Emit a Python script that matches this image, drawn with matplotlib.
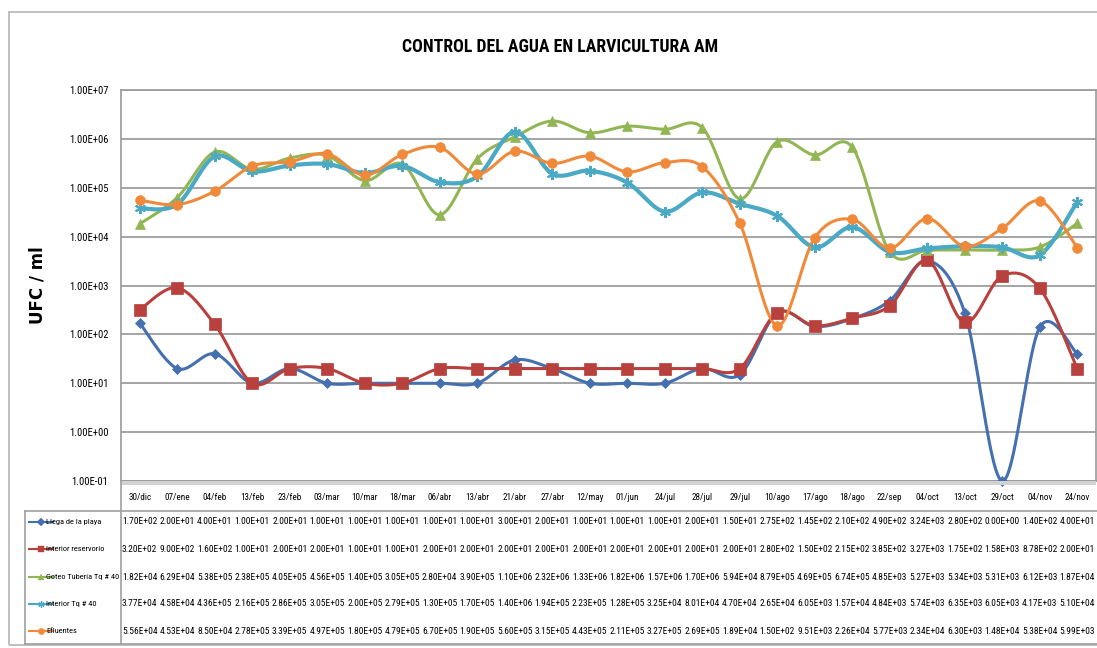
import numpy as np
import matplotlib
matplotlib.use("Agg")
import matplotlib.pyplot as plt
from matplotlib import font_manager
from matplotlib.font_manager import FontProperties
from matplotlib.lines import Line2D
import matplotlib.transforms as mtransforms

# ---------------- data ----------------
categories = ["30/dic", "07/ene", "04/feb", "13/feb", "23/feb", "03/mar", "10/mar", "18/mar",
              "06/abr", "13/abr", "21/abr", "27/abr", "12/may", "01/jun", "24/jul", "28/jul",
              "29/jul", "10/ago", "17/ago", "18/ago", "22/sep", "04/oct", "13/oct", "29/oct",
              "04/nov", "24/nov"]

llega_playa = [1.70e2, 2.00e1, 4.00e1, 1.00e1, 2.00e1, 1.00e1, 1.00e1, 1.00e1, 1.00e1, 1.00e1,
               3.00e1, 2.00e1, 1.00e1, 1.00e1, 1.00e1, 2.00e1, 1.50e1, 2.75e2, 1.45e2, 2.10e2,
               4.90e2, 3.24e3, 2.80e2, 0.00e0, 1.40e2, 4.00e1]
interior_reservorio = [3.20e2, 9.00e2, 1.60e2, 1.00e1, 2.00e1, 2.00e1, 1.00e1, 1.00e1, 2.00e1, 2.00e1,
                       2.00e1, 2.00e1, 2.00e1, 2.00e1, 2.00e1, 2.00e1, 2.00e1, 2.80e2, 1.50e2, 2.15e2,
                       3.85e2, 3.27e3, 1.75e2, 1.58e3, 8.78e2, 2.00e1]
goteo_tuberia = [1.82e4, 6.29e4, 5.38e5, 2.38e5, 4.05e5, 4.56e5, 1.40e5, 3.05e5, 2.80e4, 3.90e5,
                 1.10e6, 2.32e6, 1.33e6, 1.82e6, 1.57e6, 1.70e6, 5.94e4, 8.79e5, 4.69e5, 6.74e5,
                 4.85e3, 5.27e3, 5.34e3, 5.31e3, 6.12e3, 1.87e4]
interior_tq = [3.77e4, 4.58e4, 4.36e5, 2.16e5, 2.86e5, 3.05e5, 2.00e5, 2.79e5, 1.30e5, 1.70e5,
               1.40e6, 1.94e5, 2.23e5, 1.28e5, 3.25e4, 8.01e4, 4.70e4, 2.65e4, 6.05e3, 1.57e4,
               4.84e3, 5.74e3, 6.35e3, 6.05e3, 4.17e3, 5.10e4]
efluentes = [5.56e4, 4.53e4, 8.50e4, 2.78e5, 3.39e5, 4.97e5, 1.80e5, 4.79e5, 6.70e5, 1.90e5,
             5.60e5, 3.15e5, 4.43e5, 2.11e5, 3.27e5, 2.69e5, 1.89e4, 1.50e2, 9.51e3, 2.26e4,
             5.77e3, 2.34e4, 6.30e3, 1.48e4, 5.38e4, 5.99e3]

series_names = ["Llega de la playa", "Interior reservorio", "Goteo Tuberia Tq # 40",
                "Interior Tq # 40", "Efluentes"]
series_values = [llega_playa, interior_reservorio, goteo_tuberia, interior_tq, efluentes]
y_ticks = [1e-1, 1e0, 1e1, 1e2, 1e3, 1e4, 1e5, 1e6, 1e7]

title = "CONTROL DEL AGUA EN LARVICULTURA AM"
ylabel = "UFC / ml"

# ---------------- styles ----------------
colors = ["#4470B0", "#B8403D", "#93B654", "#4AA9C4", "#F08A3A"]
markers = ["D", "s", "^", (6, 2, 0), "o"]
msizes = [5, 8, 7, 8, 7]
lwidths = [2.2, 2.2, 2.2, 3.0, 2.2]


def find_narrow(bold=False):
    prefs = ["LiberationSansNarrow", "RobotoCondensed", "DejaVuSansCondensed", "OpenSansCondensed",
             "Condensed", "Narrow"]
    files = [f.fname for f in font_manager.fontManager.ttflist]
    for p in prefs:
        for fn in files:
            base = fn.split("/")[-1].replace("-", "").replace("_", "")
            if p.lower() in base.lower():
                is_bold = "bold" in base.lower()
                is_ital = "italic" in base.lower() or "oblique" in base.lower()
                if is_bold == bold and not is_ital:
                    return FontProperties(fname=fn)
    return FontProperties(family="DejaVu Sans", weight="bold" if bold else "normal")


fp_reg = find_narrow(False)
fp_bold = find_narrow(True)

W, H = 1097, 648
fig = plt.figure(figsize=(W / 100, H / 100), dpi=100)
renderer = fig.canvas.get_renderer()


def fit_size(text, fp, target_px):
    p = fp.copy()
    p.set_size(10)
    w, h, d = renderer.get_text_width_height_descent(text, p, ismath=False)
    return 10 * target_px / w


def with_size(fp, size):
    p = fp.copy()
    p.set_size(size)
    return p


def px(x, y):
    return x / W, 1 - y / H

# outer chart border
fig.patches.append(plt.Rectangle(px(9, 645), (W - 9 + 5) / W, (645 - 12) / H,
                                 transform=fig.transFigure, fill=False,
                                 edgecolor="#B5B5B5", lw=1.2, zorder=0))

ax_l, ax_t, ax_r, ax_b = 121, 90, 1096, 481
ax = fig.add_axes([ax_l / W, 1 - ax_b / H, (ax_r - ax_l) / W, (ax_b - ax_t) / H])

n = len(categories)
xi = np.arange(n)
ymin, ymax = 1e-1, 1e7


def smooth(x, y, steps=24):
    # Bezier smoothing like a spreadsheet "smoothed line" (Catmull-Rom), in log space
    ly = np.log10(y)
    P = np.column_stack([x, ly])
    out = [P[0]]
    for i in range(len(P) - 1):
        p0 = P[i - 1] if i > 0 else P[i]
        p1 = P[i]
        p2 = P[i + 1]
        p3 = P[i + 2] if i + 2 < len(P) else P[i + 1]
        c1 = p1 + (p2 - p0) / 6.0
        c2 = p2 - (p3 - p1) / 6.0
        t = np.linspace(0, 1, steps)[1:, None]
        seg = ((1 - t) ** 3) * p1 + 3 * ((1 - t) ** 2) * t * c1 + 3 * (1 - t) * t ** 2 * c2 + t ** 3 * p2
        out.extend(seg)
    out = np.array(out)
    return out[:, 0], 10 ** out[:, 1]


for vals, c, m, ms, lw in zip(series_values, colors, markers, msizes, lwidths):
    v = np.maximum(np.array(vals, dtype=float), ymin)
    sx, sy = smooth(xi, v)
    ax.plot(sx, sy, color=c, lw=lw, solid_capstyle="round", zorder=3)
    ax.plot(xi, v, linestyle="none", marker=m, color=c, markersize=ms,
            markeredgecolor=c, markeredgewidth=1.5 if m == (6, 2, 0) else 0.5, zorder=4,
            clip_on=False)

ax.set_yscale("log")
ax.set_ylim(ymin, ymax)
ax.set_xlim(-0.5, n - 0.5)
ax.set_yticks(y_ticks)
ytl = ["%.2E" % t for t in y_ticks]
ax.set_yticklabels(ytl)
ax.yaxis.set_minor_locator(matplotlib.ticker.NullLocator())
ax.tick_params(axis="y", length=0, pad=9)
ysz = fit_size("1.00E+07", fp_reg, 39)
for lab in ax.get_yticklabels():
    lab.set_fontproperties(with_size(fp_reg, ysz))
ax.set_xticks(xi)
ax.set_xticklabels(categories)
ax.tick_params(axis="x", length=0, pad=9)
xsz = fit_size("30/dic", fp_reg, 23)
for lab in ax.get_xticklabels():
    lab.set_fontproperties(with_size(fp_reg, xsz))
ax.grid(axis="y", color="#8C8C8C", lw=1.1)
ax.set_axisbelow(True)
for s in ax.spines.values():
    s.set_color("#9A9A9A")
    s.set_linewidth(1.2)

# shadow under plot area
fig.patches.append(plt.Rectangle(px(ax_l, ax_b + 4), (ax_r - ax_l) / W, 4 / H,
                                 transform=fig.transFigure, facecolor="#D2D2D2",
                                 edgecolor="none", zorder=0))

tsz = fit_size(title, fp_bold, 316)
fig.text(560 / W, 1 - 47 / H, title, ha="center", va="center",
         fontproperties=with_size(fp_bold, tsz), color="black")
fig.text(37 / W, 1 - 285 / H, ylabel, ha="center", va="center", rotation=90,
         fontsize=12, fontweight="bold", family="DejaVu Sans")

# ---------------- data table ----------------
tb_top, tb_bot, tb_left = 511, 644, 25
border = "#A0A0A0"
fig.add_artist(Line2D([tb_left / W, 1.0], [1 - tb_top / H] * 2, transform=fig.transFigure,
                      color=border, lw=1.2))
fig.add_artist(Line2D([tb_left / W, 1.0], [1 - tb_bot / H] * 2, transform=fig.transFigure,
                      color=border, lw=1.2))
fig.add_artist(Line2D([tb_left / W] * 2, [1 - tb_top / H, 1 - tb_bot / H],
                      transform=fig.transFigure, color=border, lw=1.2))
fig.add_artist(Line2D([ax_l / W] * 2, [1 - ax_b / H, 1 - tb_bot / H],
                      transform=fig.transFigure, color=border, lw=1.2))

row_y = [522, 549, 577, 604, 631]
trans = mtransforms.blended_transform_factory(ax.transData, fig.transFigure)
vsz = fit_size("1.70E+02", fp_reg, 35)
nsz = fit_size("Goteo Tuberia Tq # 40", fp_reg, 73)
fp_v = with_size(fp_reg, vsz)
fp_n = with_size(fp_reg, min(nsz, vsz * 1.05))
for r, (name, vals, c, m) in enumerate(zip(series_names, series_values, colors, markers)):
    yy = 1 - row_y[r] / H
    fig.add_artist(Line2D([29 / W, 53 / W], [yy, yy], transform=fig.transFigure, color=c, lw=1.5))
    fig.add_artist(Line2D([41 / W], [yy], transform=fig.transFigure, color=c, marker=m,
                          markersize=4.5, markeredgecolor=c,
                          markeredgewidth=1 if m == (6, 2, 0) else 0.3, linestyle="none"))
    fig.text(46 / W, yy, name, ha="left", va="center", fontproperties=fp_n)
    for i, v in enumerate(vals):
        ax.text(i, yy, "%.2E" % v, transform=trans, ha="center", va="center",
                fontproperties=fp_v, clip_on=False)

fig.savefig("out.png", dpi=100)
